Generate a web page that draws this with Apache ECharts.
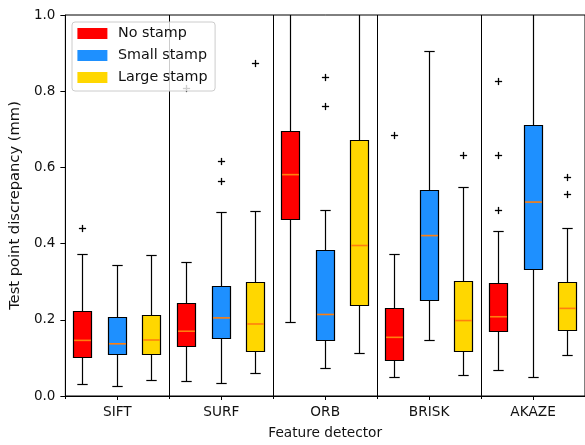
<!DOCTYPE html>
<html>
<head>
<meta charset="utf-8">
<script src="https://cdn.jsdelivr.net/npm/echarts@6/dist/echarts.min.js"></script>
<style>
html,body{margin:0;padding:0;background:#fff;}
#chart{width:585px;height:445px;}
</style>
</head>
<body>
<div id="chart"></div>
<script>
// Feature detectors (x categories)
const detectors = ['SIFT', 'SURF', 'ORB', 'BRISK', 'AKAZE'];
const stampNames = ['No stamp', 'Small stamp', 'Large stamp'];
const stampColors = ['#ff0000', '#1e90ff', '#ffd700'];
const yTicks = [0.0, 0.2, 0.4, 0.6, 0.8, 1.0];

// Box statistics per detector: [min whisker, Q1, median, Q3, max whisker]
const noStamp = [
  [0.031, 0.102, 0.146, 0.222, 0.372],
  [0.039, 0.129, 0.170, 0.244, 0.350],
  [0.194, 0.462, 0.581, 0.695, 1.03],
  [0.049, 0.092, 0.154, 0.229, 0.371],
  [0.066, 0.169, 0.208, 0.295, 0.433]
];
const smallStamp = [
  [0.025, 0.109, 0.137, 0.205, 0.342],
  [0.034, 0.151, 0.205, 0.287, 0.481],
  [0.072, 0.146, 0.214, 0.381, 0.486],
  [0.145, 0.251, 0.421, 0.540, 0.903],
  [0.049, 0.332, 0.509, 0.709, 1.10]
];
const largeStamp = [
  [0.041, 0.110, 0.147, 0.212, 0.370],
  [0.060, 0.117, 0.189, 0.298, 0.483],
  [0.112, 0.238, 0.395, 0.670, 1.10],
  [0.053, 0.117, 0.198, 0.300, 0.546],
  [0.106, 0.173, 0.230, 0.297, 0.440]
];

// Outliers per detector
const noStampOutliers = [[0.440], [0.806], [], [0.685], [0.826, 0.631, 0.486]];
const smallStampOutliers = [[], [0.616, 0.562], [0.837, 0.761], [], []];
const largeStampOutliers = [[], [0.874], [], [0.630], [0.573, 0.528]];

const boxSets = [noStamp, smallStamp, largeStamp];
const outlierSets = [noStampOutliers, smallStampOutliers, largeStampOutliers];

const chart = echarts.init(document.getElementById('chart'), null, {renderer: 'canvas'});
const FONT = 'DejaVu Sans';
const TXT = '#111';

function snap(v) { return Math.round(v - 0.5) + 0.5; }

function boxRenderer(k, color) {
  return function (params, api) {
    const ci = api.value(0);
    const band = api.size([1, 0])[0];
    const step = band / 3;
    const cx = snap(api.coord([ci, 0])[0] + (k - 1) * step);
    const Y = v => api.coord([ci, v])[1];
    const top = params.coordSys.y;
    const hw = step * 0.26;
    const cw = step * 0.15;
    const yMin = snap(Y(api.value(1))), yQ1 = snap(Y(api.value(2))), yMed = Y(api.value(3)), yQ3 = snap(Y(api.value(4)));
    const yMaxRaw = Y(api.value(5));
    const yMax = Math.max(top, snap(yMaxRaw));
    const lw = 1.2;
    const lineStyle = {stroke: '#000', lineWidth: lw, fill: null};
    const bx = snap(cx - hw), bw = Math.round(hw * 2);
    const children = [
      {type: 'line', shape: {x1: cx, y1: yMin, x2: cx, y2: yQ1}, style: lineStyle},
      {type: 'line', shape: {x1: cx, y1: yQ3, x2: cx, y2: yMax}, style: lineStyle},
      {type: 'line', shape: {x1: cx - cw, y1: yMin, x2: cx + cw, y2: yMin}, style: lineStyle},
      {type: 'rect', shape: {x: bx, y: yQ3, width: bw, height: yQ1 - yQ3}, style: {fill: color, stroke: '#000', lineWidth: lw}},
      {type: 'line', shape: {x1: bx + 0.6, y1: yMed, x2: bx + bw - 0.6, y2: yMed}, style: {stroke: '#ff7f0e', lineWidth: 1.6}}
    ];
    if (yMaxRaw >= top) {
      children.push({type: 'line', shape: {x1: cx - cw, y1: yMax, x2: cx + cw, y2: yMax}, style: lineStyle});
    }
    return {type: 'group', children: children};
  };
}

function outlierRenderer(params, api) {
  const ci = api.value(0);
  const k = api.value(1);
  const band = api.size([1, 0])[0];
  const step = band / 3;
  const p = api.coord([ci, api.value(2)]);
  const cx = snap(p[0] + (k - 1) * step);
  const cy = snap(p[1]);
  const s = 3.6;
  const st = {stroke: '#000', lineWidth: 1.3};
  return {type: 'group', children: [
    {type: 'line', shape: {x1: cx - s, y1: cy, x2: cx + s, y2: cy}, style: st},
    {type: 'line', shape: {x1: cx, y1: cy - s, x2: cx, y2: cy + s}, style: st}
  ]};
}

const series = [];
boxSets.forEach(function (set, k) {
  series.push({
    name: stampNames[k],
    type: 'custom',
    xAxisIndex: 0,
    yAxisIndex: 0,
    itemStyle: {color: stampColors[k]},
    renderItem: boxRenderer(k, stampColors[k]),
    encode: {x: 0, y: [1, 2, 3, 4, 5]},
    data: set.map(function (b, i) { return [i].concat(b); }),
    z: 2,
    silent: true
  });
});
const outlierData = [];
outlierSets.forEach(function (set, k) {
  set.forEach(function (vals, i) {
    vals.forEach(function (v) { outlierData.push([i, k, v]); });
  });
});
series.push({
  name: 'outliers',
  type: 'custom',
  xAxisIndex: 0,
  yAxisIndex: 0,
  renderItem: outlierRenderer,
  encode: {x: 0, y: 2},
  data: outlierData,
  z: 2,
  silent: true
});

chart.setOption({
  animation: false,
  backgroundColor: '#fff',
  textStyle: {fontFamily: FONT},
  grid: {left: 65, top: 15, width: 521, height: 386, show: true, borderColor: '#000', borderWidth: 1, backgroundColor: 'transparent'},
  legend: {
    data: stampNames.map(function (n) { return {name: n, icon: 'rect'}; }),
    orient: 'vertical',
    left: 72,
    top: 22,
    itemWidth: 30,
    itemHeight: 11,
    itemGap: 8,
    padding: [4.5, 7.5, 6.5, 5.4],
    backgroundColor: 'rgba(255,255,255,0.8)',
    borderColor: '#cccccc',
    borderWidth: 1,
    borderRadius: 3,
    itemStyle: {borderWidth: 0},
    textStyle: {fontFamily: FONT, fontSize: 14.3, color: TXT, padding: [0, 0, 0, 5.6]},
    selectedMode: false,
    z: 10
  },
  xAxis: [
    {
      type: 'category',
      data: detectors,
      position: 'bottom',
      name: 'Feature detector',
      nameLocation: 'middle',
      nameGap: 30,
      nameTextStyle: {fontFamily: FONT, fontSize: 13.7, color: TXT},
      axisLine: {show: true, lineStyle: {color: '#000', width: 1}},
      axisTick: {show: true, alignWithLabel: true, length: 4, lineStyle: {color: '#000'}},
      axisLabel: {fontFamily: FONT, fontSize: 13.7, color: TXT, margin: 9},
      splitLine: {show: false}
    },
    {
      type: 'category',
      data: detectors,
      position: 'bottom',
      axisLine: {show: false},
      axisTick: {show: true, alignWithLabel: false, length: 3, lineStyle: {color: '#000'}},
      axisLabel: {show: false},
      splitLine: {show: true, lineStyle: {color: '#000', width: 1}}
    }
  ],
  yAxis: {
    type: 'value',
    min: yTicks[0],
    max: yTicks[yTicks.length - 1],
    interval: 0.2,
    name: 'Test point discrepancy (mm)',
    nameLocation: 'middle',
    nameGap: 37,
    nameTextStyle: {fontFamily: FONT, fontSize: 14.7, color: TXT},
    axisLine: {show: true, lineStyle: {color: '#000', width: 1}},
    axisTick: {show: true, inside: false, length: 5, lineStyle: {color: '#000'}},
    axisLabel: {fontFamily: FONT, fontSize: 13.5, color: TXT, margin: 10, formatter: function (v) { return v.toFixed(1); }},
    splitLine: {show: false}
  },
  series: series
});
</script>
</body>
</html>
